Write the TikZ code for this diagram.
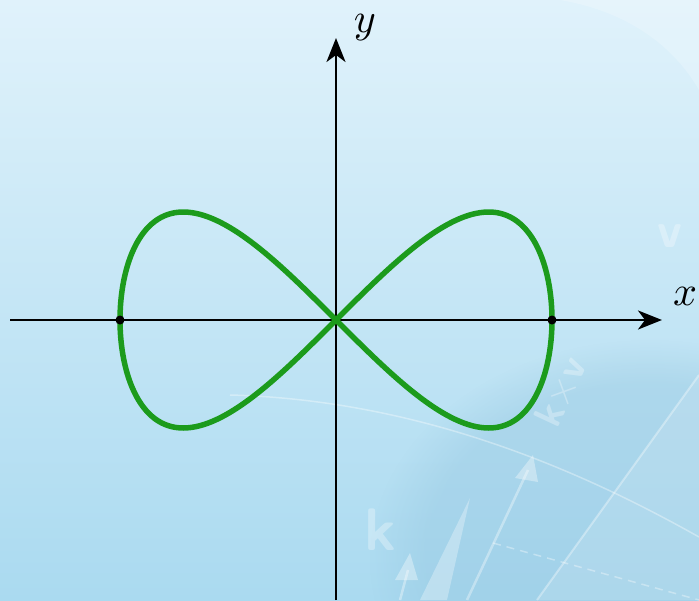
\documentclass[tikz,border=0pt]{standalone}
\usetikzlibrary{arrows.meta,fadings}
\definecolor{bgtop}{RGB}{224,242,251}
\definecolor{bgbot}{RGB}{170,218,240}
\definecolor{bgdark}{RGB}{145,196,222}
\definecolor{curvegreen}{RGB}{28,155,28}
\tikzset{
  axis/.style={line width=2.6pt, -{Stealth[length=24pt,width=19pt,inset=7pt]}},
  curve/.style={curvegreen, line width=5.5pt, line join=round},
  dotnode/.style={circle, fill=black, inner sep=0pt, minimum size=9pt},
  deco/.style={white, opacity=0.35, line width=2.5pt},
  decotext/.style={white, opacity=0.3, font=\sffamily\bfseries},
}
\begin{document}
\begin{tikzpicture}[x=1pt,y=-1pt]
\useasboundingbox (0,0) rectangle (699,600);
% background
\shade[top color=bgtop, bottom color=bgbot] (0,0) rectangle (699,600);
\fill[bgdark, opacity=0.35, path fading=circle with fuzzy edge 20 percent] (650,560) ellipse (280 and 220);
% decorations
\draw[deco, line width=1.5pt] (230,395) .. controls (420,400) and (580,470) .. (699,537);
\draw[deco, line width=2pt] (699,375) -- (537,600);
\fill[white, opacity=0.12] (699,375) -- (537,600) -- (699,600) -- cycle;
\fill[white, opacity=0.2] (560,0) .. controls (620,10) and (670,40) .. (699,90) -- (699,0) -- cycle;
\draw[deco, dashed, line width=1.5pt, dash pattern=on 8pt off 6pt] (493,543) -- (699,600);
\draw[deco] (467,600) -- (528,470);
\fill[white, opacity=0.35] (533,455) -- (515,478) -- (538,482) -- cycle;
\fill[white, opacity=0.3] (470,498) -- (420,600) -- (447,600) -- cycle;
\draw[deco] (400,600) -- (408,570);
\fill[white, opacity=0.35] (410,553) -- (395,580) -- (418,580) -- cycle;
\node[decotext, scale=6] (deck) at (380,530) {k};
\node[decotext, scale=4, rotate=65] (deckv) at (562,392) {k$\times$v};
\node[decotext, scale=5] (decv) at (670,236) {v};
% axes
\coordinate (O) at (336,320);
\coordinate (xs) at (10,320);
\coordinate (xe) at (662,320);
\coordinate (ys) at (336,600);
\coordinate (ye) at (336,38);
\draw[axis] (xs) -- (xe);
\draw[axis] (ys) -- (ye);
\node[scale=4.2] (xlab) at (685,296) {$x$};
\node[scale=4.2] (ylab) at (365,28) {$y$};
% lemniscate of Gerono
\draw[curve] plot[domain=0:360, samples=241, smooth] ({336+216*cos(\x)}, {320-216*sin(\x)*cos(\x)}) -- cycle;
\node[dotnode] (pl) at (120,320) {};
\node[dotnode] (pr) at (552,320) {};
\end{tikzpicture}
\end{document}
